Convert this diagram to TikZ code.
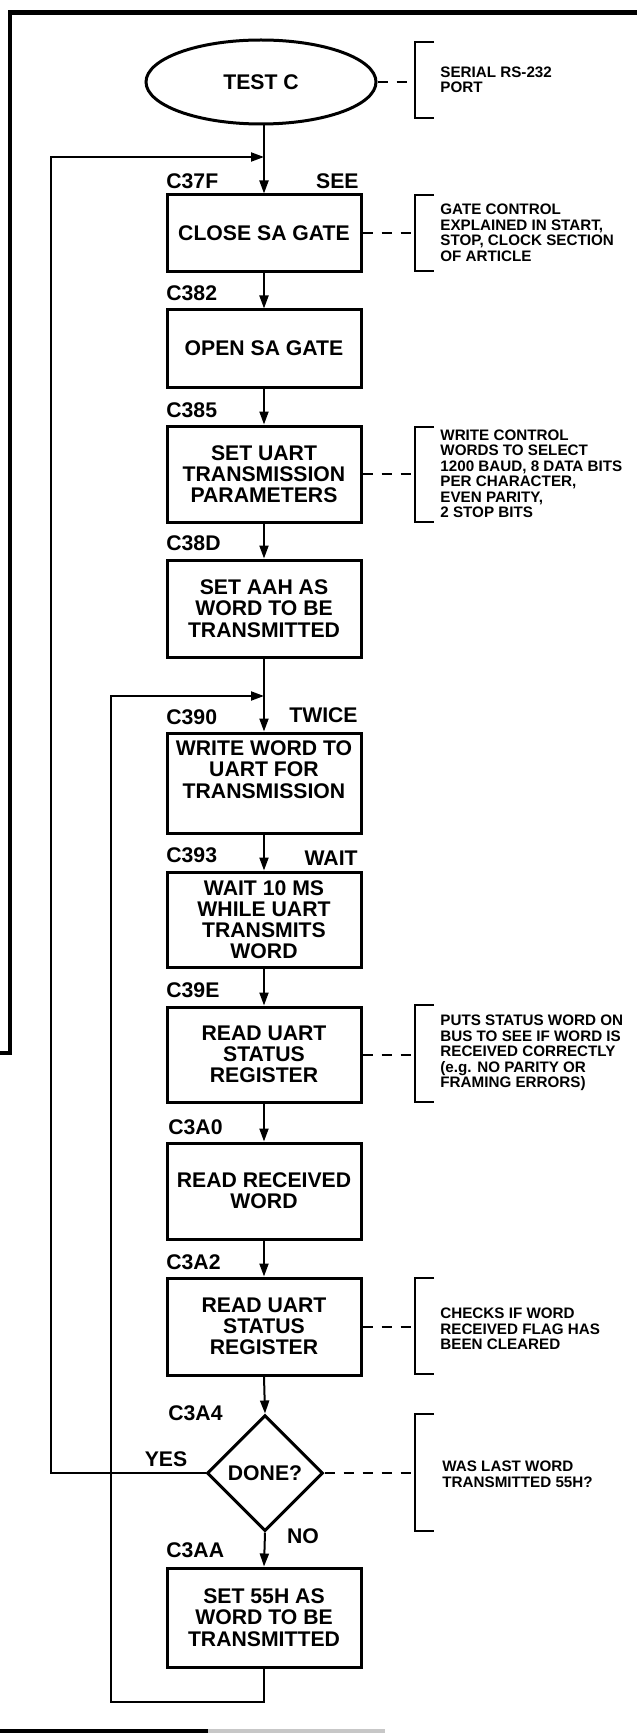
\documentclass[tikz,border=0pt]{standalone}
\usepackage{fontspec}
\setmainfont{Liberation Sans}
\usetikzlibrary{arrows.meta,shapes.geometric}
\newcommand\boxfnt{\fontsize{10.6}{10.6}\selectfont\bfseries}
\newcommand\notefnt{\fontsize{7.6}{7.75}\selectfont\bfseries}
\tikzset{
  box/.style={draw, line width=1.5pt, minimum width=97pt, align=center, font=\boxfnt, inner sep=0pt},
  lbl/.style={font=\boxfnt, inner sep=0pt},
  note/.style={font=\notefnt, align=left, anchor=west, inner sep=0pt},
  conn/.style={line width=1pt},
  arr/.style={conn, -{Triangle[length=6.5pt,width=4.5pt]}},
  dashln/.style={line width=1pt, dash pattern=on 5pt off 4.5pt},
  brk/.style={line width=1pt},
  framel/.style={line width=2.3pt},
}
\newcommand\brkt[2]{\draw[brk] (434,#1) -- (415,#1) -- (415,#2) -- (434,#2);}
\begin{document}
\begin{tikzpicture}[x=0.5pt,y=-0.5pt]
\useasboundingbox (0,0) rectangle (637,1733);
% frame
\draw[framel] (0,1053) -- (10,1053) -- (10,12.5) -- (637,12.5);
\draw[framel] (0,1731) -- (208,1731);
\draw[line width=1.6pt, black!22] (208,1731) -- (385,1731);
% start
\node[draw, ellipse, line width=1.5pt, minimum width=115pt, minimum height=42pt, inner sep=0pt, font=\boxfnt] (e) at (261,82) {TEST C};
% boxes
\node[box, minimum height=38.5pt] (b1) at (264,233.5) {CLOSE SA GATE};
\node[box, minimum height=38.5pt] (b2) at (264,348.5) {OPEN SA GATE};
\node[box, minimum height=48pt] (b3) at (264,474) {SET UART\\TRANSMISSION\\PARAMETERS};
\node[box, minimum height=48.5pt] (b4) at (264,608.5) {SET AAH AS\\WORD TO BE\\TRANSMITTED};
\node[box, minimum height=50pt] (b5) at (264,783) {WRITE WORD TO\\UART FOR\\TRANSMISSION\\[3pt]};
\node[box, minimum height=47.5pt] (b6) at (264,919.5) {WAIT 10 MS\\WHILE UART\\TRANSMITS\\WORD};
\node[box, minimum height=47.5pt] (b7) at (264,1054.5) {READ UART\\STATUS\\REGISTER};
\node[box, minimum height=48pt] (b8) at (264,1191) {READ RECEIVED\\WORD};
\node[box, minimum height=48.5pt] (b9) at (264,1326.5) {READ UART\\STATUS\\REGISTER};
\node[draw, diamond, aspect=1, line width=1.5pt, minimum width=58pt, minimum height=58pt, inner sep=0pt, font=\boxfnt] (d) at (265,1473) {DONE?};
\node[box, minimum height=49.5pt] (b11) at (264,1617.5) {SET 55H AS\\WORD TO BE\\TRANSMITTED};
% labels
\node[lbl, anchor=west] (lc1) at (166,181) {C37F};
\node[lbl, anchor=east] (ls1) at (359,181) {SEE};
\node[lbl, anchor=west] (lc2) at (166,293) {C382};
\node[lbl, anchor=west] (lc3) at (166,410) {C385};
\node[lbl, anchor=west] (lc4) at (166,543) {C38D};
\node[lbl, anchor=west] (lc5) at (166,717) {C390};
\node[lbl, anchor=east] (ls5) at (358,715) {TWICE};
\node[lbl, anchor=west] (lc6) at (166,855) {C393};
\node[lbl, anchor=east] (ls6) at (358,858) {WAIT};
\node[lbl, anchor=west] (lc7) at (166,990) {C39E};
\node[lbl, anchor=west] (lc8) at (168,1127) {C3A0};
\node[lbl, anchor=west] (lc9) at (166,1262) {C3A2};
\node[lbl, anchor=west] (lc10) at (168,1413) {C3A4};
\node[lbl] (lyes) at (166,1459) {YES};
\node[lbl] (lno) at (303,1536) {NO};
\node[lbl, anchor=west] (lc11) at (166,1550) {C3AA};
% main flow
\draw[arr] (b1.north |- e.south) -- (b1.north);
\draw[arr] (b1) -- (b2);
\draw[arr] (b2) -- (b3);
\draw[arr] (b3) -- (b4);
\draw[arr] (b4) -- (b5);
\draw[arr] (b5) -- (b6);
\draw[arr] (b6) -- (b7);
\draw[arr] (b7) -- (b8);
\draw[arr] (b8) -- (b9);
\draw[arr] (b9.south) -- (d.north);
\draw[arr] (d.south) -- (b11.north);
% loops
\coordinate (j1) at (264,157);
\coordinate (l1) at (51,157);
\coordinate (j2) at (264,696);
\coordinate (l2) at (111,696);
\coordinate (l2b) at (111,1702);
\draw[arr] (d.west) -| (l1) -- (j1);
\draw[arr] (b11.south) |- (l2b) -- (l2) -- (j2);
% brackets and notes
\coordinate (bx) at (415,0);
\brkt{42}{118}
\brkt{195}{271}
\brkt{427}{522}
\brkt{1005}{1102}
\brkt{1278}{1374}
\brkt{1414}{1531}
\draw[dashln] (e.east) -- (e.east -| bx);
\draw[dashln] (b1.east) -- (b1.east -| bx);
\draw[dashln] (b3.east) -- (b3.east -| bx);
\draw[dashln] (b7.east) -- (b7.east -| bx);
\draw[dashln] (b9.east) -- (b9.east -| bx);
\draw[dashln] (d.east) -- (d.east -| bx);
\node[note] (n1) at (440,80) {SERIAL RS-232\\PORT};
\node[note] (n2) at (440,233) {GATE CONTROL\\EXPLAINED IN START,\\STOP, CLOCK SECTION\\OF ARTICLE};
\node[note] (n3) at (440,474) {WRITE CONTROL\\WORDS TO SELECT\\1200 BAUD, 8 DATA BITS\\PER CHARACTER,\\EVEN PARITY,\\2 STOP BITS};
\node[note] (n4) at (440,1053) {PUTS STATUS WORD ON\\BUS TO SEE IF WORD IS\\RECEIVED CORRECTLY\\(e.g. NO PARITY OR\\FRAMING ERRORS)};
\node[note] (n5) at (440,1329) {CHECKS IF WORD\\RECEIVED FLAG HAS\\BEEN CLEARED};
\node[note] (n6) at (442,1474) {WAS LAST WORD\\TRANSMITTED 55H?};
\end{tikzpicture}
\end{document}
